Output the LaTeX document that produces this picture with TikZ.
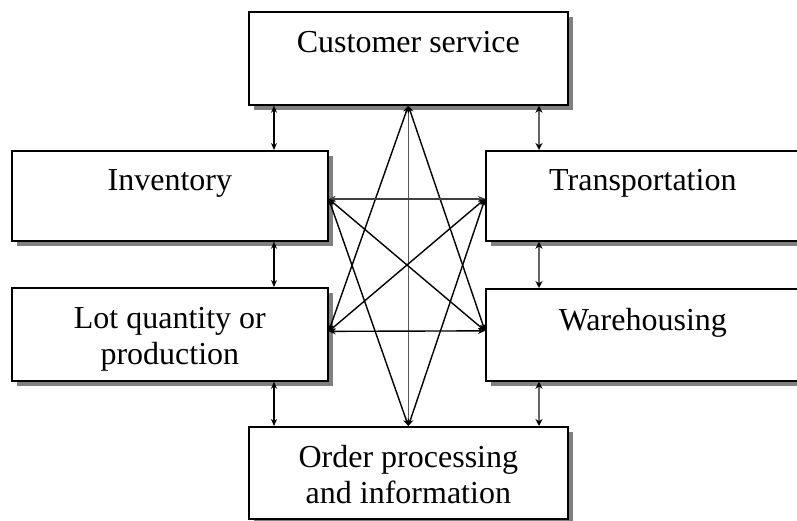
\documentclass[tikz,border=0pt]{standalone}
\usepackage{fontspec}
\setmainfont{Liberation Serif}
\usetikzlibrary{arrows.meta,shadows,calc}
\begin{document}
\begin{tikzpicture}[x=1pt,y=-1pt,
  block/.style={draw=black, line width=1.7pt, fill=white, rectangle,
    anchor=north west, inner sep=0pt,
    drop shadow={shadow xshift=5pt, shadow yshift=-5pt, fill=black!50, opacity=1}},
  blocktext/.style={font=\fontsize{32}{36}\selectfont, align=center,
    inner sep=0pt, anchor=base},
  tip/.tip={Stealth[length=7pt,width=6pt]},
  link/.style={line width=1.4pt, tip-tip},
  sidetip/.tip={Stealth[length=7pt,width=7pt,black]},
  sidelink/.style={line width=2.6pt, draw=black!60, sidetip-sidetip}
]
\clip (0,0) rectangle (797,520);
\fill[white] (0,0) rectangle (797,520);

% boxes
\node[block, minimum width=319pt, minimum height=93pt] (cs) at (248,11) {};
\node[block, minimum width=316pt, minimum height=90pt] (inv) at (11,150) {};
\node[block, minimum width=316pt, minimum height=93pt] (lot) at (11,287) {};
\node[block, minimum width=320pt, minimum height=90pt] (tr) at (485,150) {};
\node[block, minimum width=320pt, minimum height=92pt] (wh) at (485,288) {};
\node[block, minimum width=319pt, minimum height=92pt] (op) at (248,426) {};

% labels (two-line labels are placed by the baseline of their last line)
\node[blocktext] (csT) at ($(cs.north)+(0,41)$) {Customer service};
\node[blocktext] (invT) at ($(inv.north)+(0,40)$) {Inventory};
\node[blocktext] (trT) at ($(tr.north)+(-3,40)$) {Transportation};
\node[blocktext] (whT) at ($(wh.north)+(-3,42)$) {Warehousing};
\node[blocktext] (lotT) at ($(lot.north)+(0,77)$) {Lot quantity or\\production};
\node[blocktext] (opT) at ($(op.north)+(0,77)$) {Order processing\\and information};

% columns of the side links
\coordinate (xl) at (274,0);
\coordinate (xr) at (539,0);

% side links
\draw[link] (cs.south -| xl) -- (inv.north -| xl);
\draw[link] (inv.south -| xl) -- (lot.north -| xl);
\draw[link] (lot.south -| xl) -- (op.north -| xl);
\draw[sidelink] (cs.south -| xr) -- (tr.north -| xr);
\draw[sidelink] (tr.south -| xr) -- (wh.north -| xr);
\draw[sidelink] (wh.south -| xr) -- (op.north -| xr);

% inner end points
\coordinate (iE) at ([yshift=-3pt]inv.east);
\coordinate (lE) at ([yshift=3pt]lot.east);
\coordinate (tW) at ([yshift=-3pt]tr.west);
\coordinate (wW) at ([yshift=4pt]wh.west);

% central web
\draw[link, draw=black!65] (cs.south) -- (op.north);
\draw[link] (cs.south) -- (lE);
\draw[link] (cs.south) -- (wW);
\draw[link] (op.north) -- (iE);
\draw[link] (op.north) -- (tW);
\draw[link, draw=black!75] (iE) -- (tW);
\draw[link] (lE) -- (wW);
\draw[link] (iE) -- (wW);
\draw[link] (lE) -- (tW);
\end{tikzpicture}
\end{document}
